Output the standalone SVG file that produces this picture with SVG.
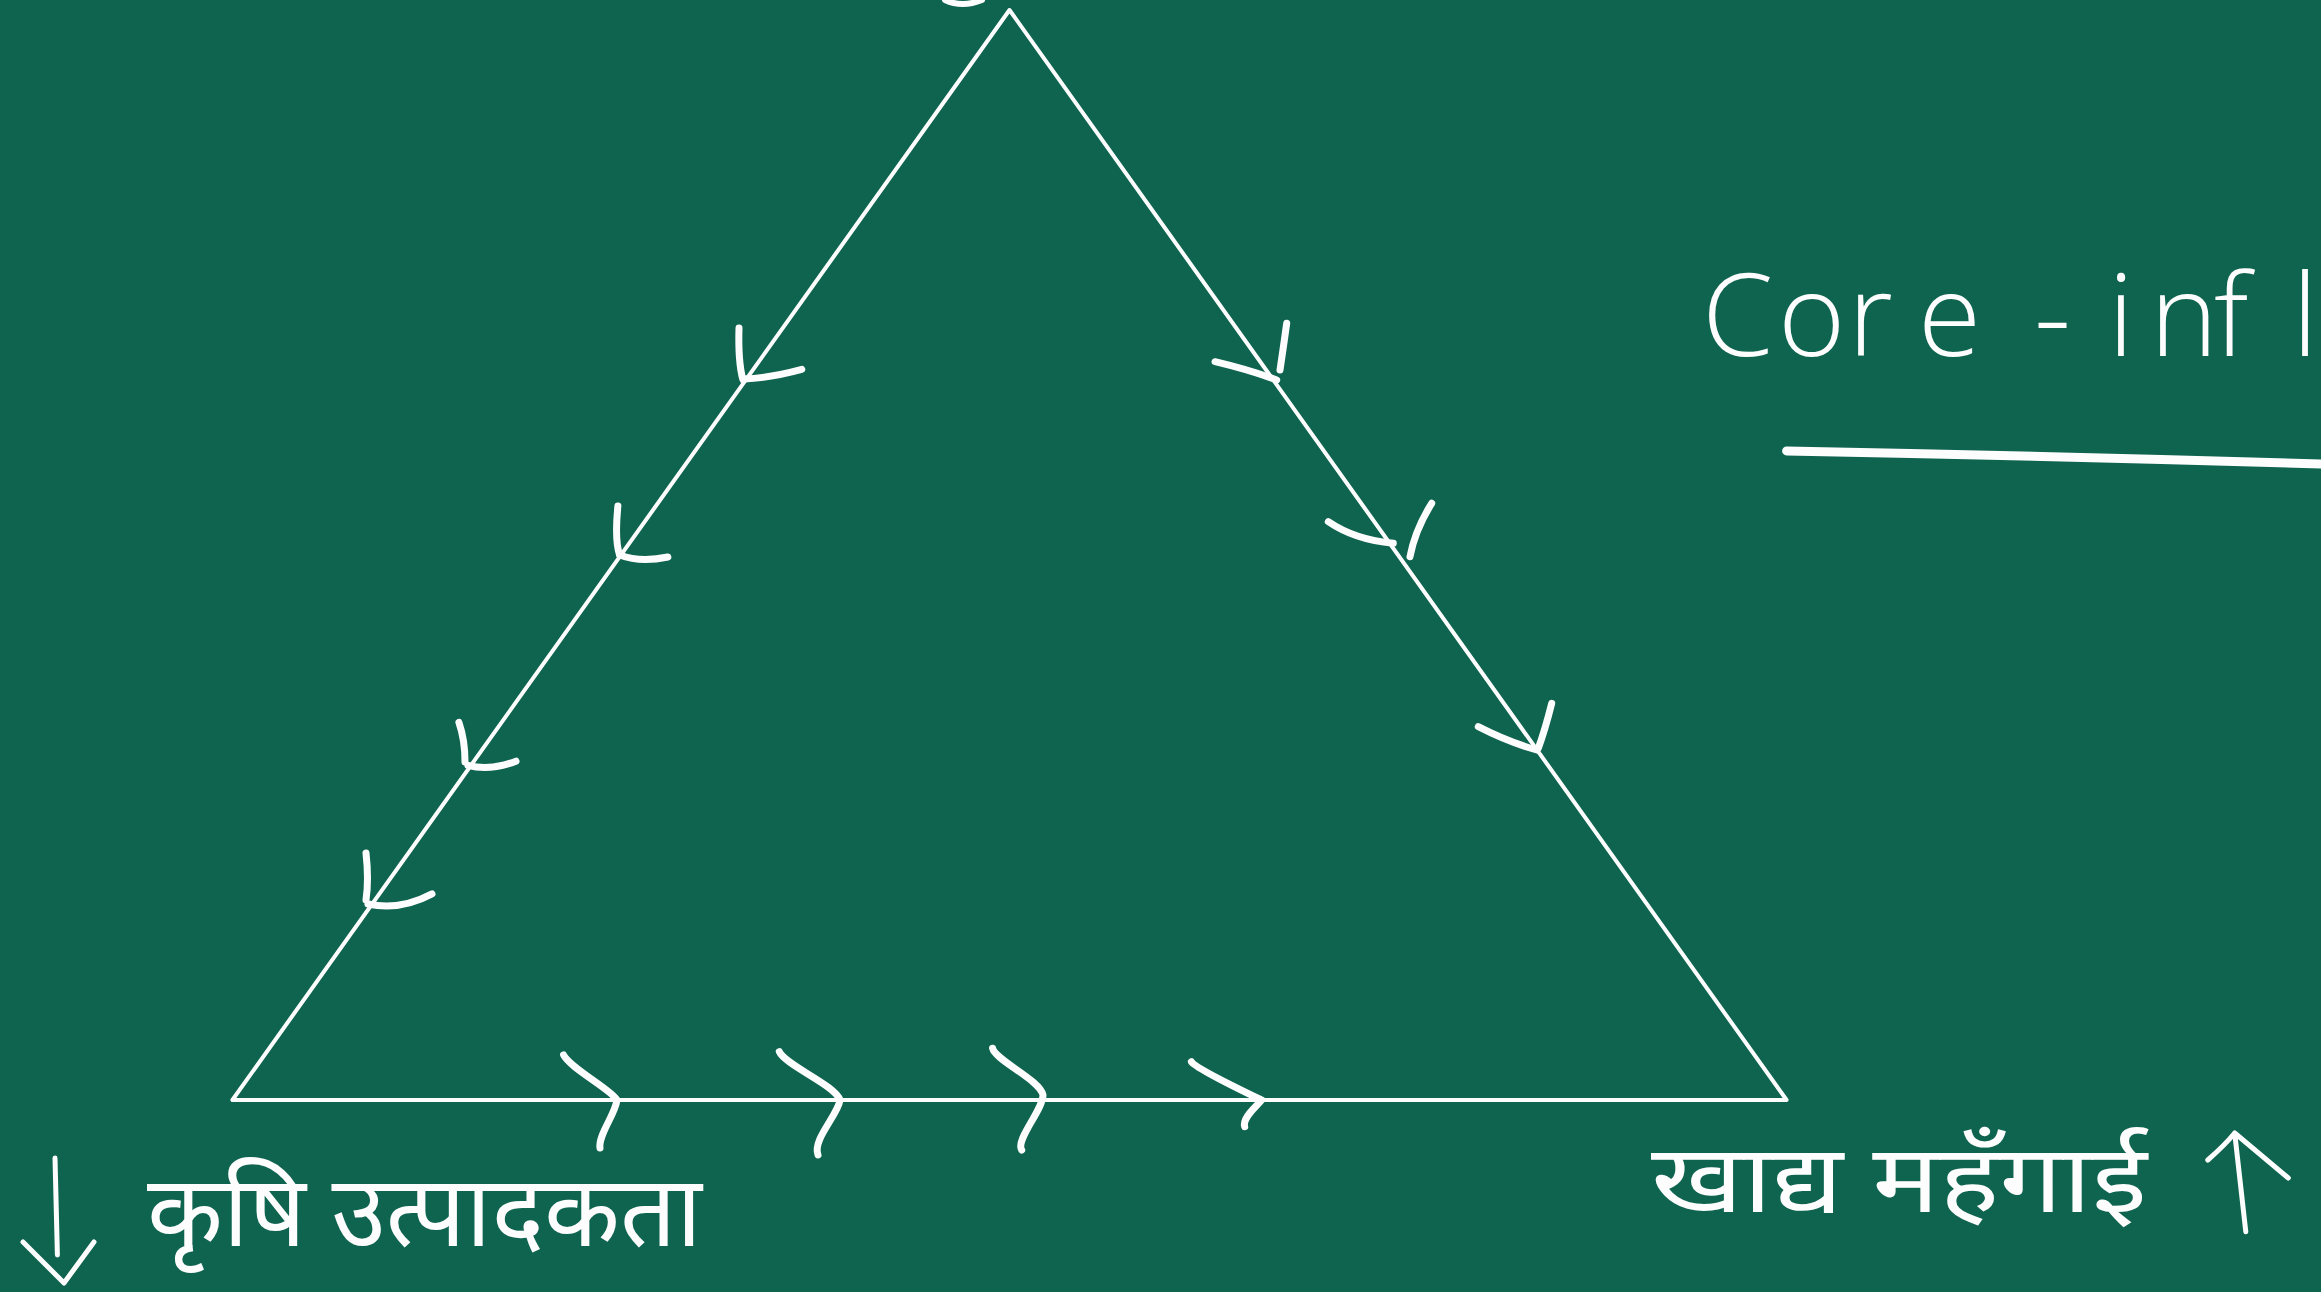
<svg xmlns="http://www.w3.org/2000/svg" width="2321" height="1292" viewBox="0 0 2321 1292">
<style>
.chalk{fill:none;stroke:#fdfdfd;stroke-linecap:round;stroke-linejoin:round}
.edge{stroke-width:4}
.tick{stroke-width:7}
.hand{fill:#fdfdfd;font-family:"Noto Sans Devanagari","Lohit Devanagari","FreeSans","Noto Sans",sans-serif}
.latin{fill:#fdfdfd;font-family:"Open Sans","Liberation Sans",sans-serif;font-weight:300}
</style>
<rect width="2321" height="1292" fill="#0f6450"/>
<g id="top-fragment">
<path class="chalk" d="M945,0 Q962,8 982,0" stroke-width="6"/>
</g>
<g id="connectors">
<path id="triangle" class="chalk edge" d="M1009.5,10 L232.4,1100 L1786.6,1100 Z"/>
<g id="left-side-arrows" class="chalk tick">
<path d="M739,328 Q738,362 742.9,379.6"/><path d="M744,379 Q770,378 801.8,369.4"/>
<path d="M617.9,506 Q614.5,540 619.6,555"/><path d="M620,555 Q640,563 667.9,557"/>
<path d="M458.9,722.4 Q465,740 465,762"/><path d="M467.9,765.3 Q490,771 516,761.2"/>
<path d="M366,853 Q369,880 366,900"/><path d="M368,904 Q400,911 432,893.9"/>
</g>
<g id="right-side-arrows" class="chalk tick">
<path d="M1215,361.7 Q1250,370 1276.7,380"/><path d="M1286.7,323.3 Q1283,350 1280,370"/>
<path d="M1328.3,521.7 Q1355,540 1393.3,543.3"/><path d="M1431.7,503.3 Q1415,530 1410,556.7"/>
<path d="M1478.3,726.7 Q1508,742 1536.7,750"/><path d="M1551.7,703.3 Q1545,730 1538.3,748.3"/>
</g>
<g id="bottom-side-arrows" class="chalk tick">
<path d="M563.6,1055 C570,1068 612,1090 617,1100 C615,1115 598,1135 600,1148"/>
<path d="M779.3,1051.7 C785,1065 835,1085 840,1100 C838,1115 812,1140 818,1155"/>
<path d="M992.6,1048.3 C995,1060 1040,1080 1043,1095 C1043,1110 1015,1140 1021.7,1150"/>
<path d="M1191.4,1061.7 C1195,1068 1245,1092 1261.6,1100 C1255,1108 1242,1118 1244.7,1126.7"/>
</g>
</g>
<g id="label-core">
<text class="latin" font-size="115" x="1702 1778 1848 1918 1990 2034 2108 2150 2214 2292" y="356">Core -infl</text>
<path class="chalk" d="M1786.6,451 Q2050,456 2321,464" stroke-width="9"/>
</g>
<g id="label-agri">
<path class="chalk" d="M55,1158 L57.4,1255 M23,1242 L64,1283 L94,1242" stroke-width="5"/>
<text class="hand" font-size="100" x="147" y="1246" textLength="555" lengthAdjust="spacingAndGlyphs">कृषि उत्पादकता</text>
</g>
<g id="label-food">
<text class="hand" font-size="95" x="1651" y="1212" textLength="496" lengthAdjust="spacingAndGlyphs">खाद्य महँगाई</text>
<path class="chalk" d="M2234.7,1133 L2245.8,1231.7 M2207.8,1160 Q2225,1145 2234.7,1133 L2288.3,1178" stroke-width="5"/>
</g>
</svg>
